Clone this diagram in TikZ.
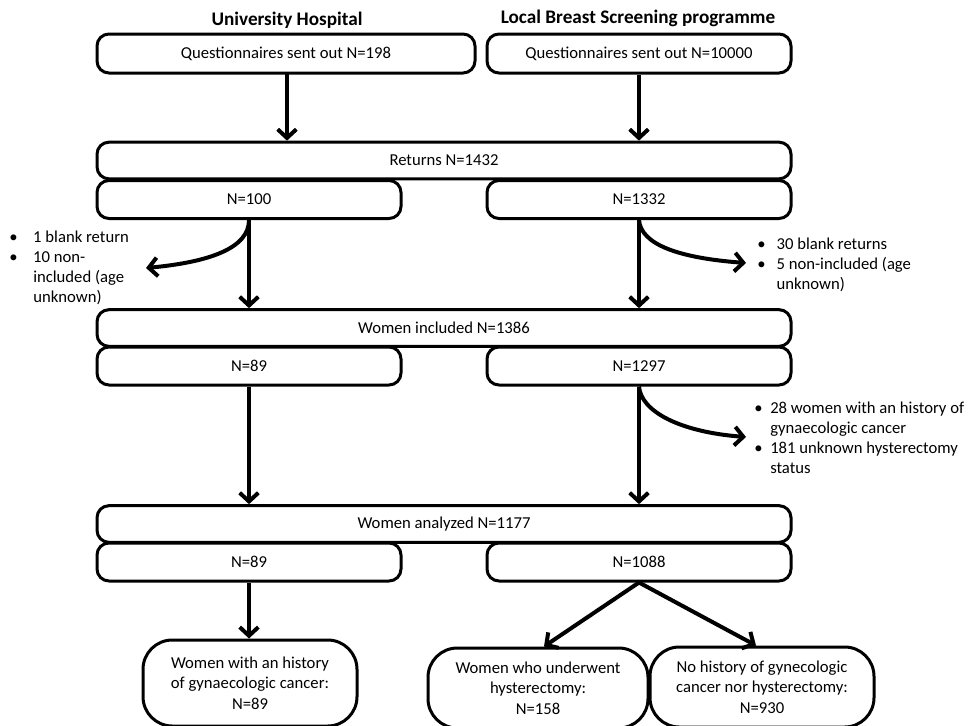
\documentclass[tikz,border=0pt]{standalone}
\usepackage{fontspec}
\setmainfont{Carlito}
\usetikzlibrary{arrows.meta,calc}
\begin{document}
\begin{tikzpicture}[x=0.75pt,y=-0.75pt,
  box/.style={draw,line width=2.25pt,rounded corners=9pt,minimum height=28.5pt,inner sep=0pt,font=\fontsize{12.5}{14}\selectfont},
  wide/.style={box,minimum width=520.5pt,minimum height=27.5pt},
  half/.style={box,minimum width=228pt},
  endbox/.style={draw,line width=2.25pt,rounded corners=22pt,inner sep=0pt,align=center,font=\fontsize{12.5}{15.5}\selectfont},
  arr/.style={line width=3pt,-{Straight Barb[length=6.5pt,width=14pt]}},
  note/.style={anchor=north west,inner sep=0pt,align=left,font=\fontsize{12.5}{15}\selectfont},
  head/.style={font=\fontsize{14.4}{16}\selectfont\bfseries}]
\useasboundingbox (0,0) rectangle (974,725);
\clip (0,0) rectangle (974,725);

\node[head] (h1) at (287,20) {University Hospital};
\node[head] (h2) at (638,18) {Local Breast Screening programme};

\node[box,minimum width=283.5pt,minimum height=29.25pt] (q1) at (286,53.5) {Questionnaires sent out N=198};
\node[half,minimum height=29.25pt] (q2) at (639,53.5) {Questionnaires sent out N=10000};

\node[wide] (ret) at (444,160.5) {Returns N=1432};
\node[half] (n100) at (249,199.5) {N=100};
\node[half] (n1332) at (639,199.5) {N=1332};

\node[wide] (inc) at (444,328) {Women included N=1386};
\node[half] (n89a) at (249,366) {N=89};
\node[half] (n1297) at (639,366) {N=1297};

\node[wide] (ana) at (444,524) {Women analyzed N=1177};
\node[half] (n89b) at (249,562) {N=89};
\node[half] (n1088) at (639,562) {N=1088};

\node[endbox,minimum width=160.5pt,minimum height=64.5pt] (bl) at (250,683) {Women with an history\\of gynaecologic cancer:\\N=89};
\node[endbox,minimum width=165pt,minimum height=60pt] (bm) at (538,688) {Women who underwent\\hysterectomy:\\N=158};
\node[endbox,minimum width=168pt,minimum height=60pt] (br) at (762,687) {No history of gynecologic\\cancer nor hysterectomy:\\N=930};

% notes
\node[note] (t1) at (9,228) {\begin{tabular}{@{}p{18pt}@{}l@{}}\textbullet & 1 blank return\\ \textbullet & 10 non-\\ & included (age\\ & unknown)\end{tabular}};
\node[note] (t2) at (757,235) {\begin{tabular}{@{}p{14.5pt}@{}l@{}}\textbullet & 30 blank returns\\ \textbullet & 5 non-included (age\\ & unknown)\end{tabular}};
\node[note] (t3) at (754,399) {\begin{tabular}{@{}p{12pt}@{}l@{}}\textbullet & 28 women with an history of\\ & gynaecologic cancer\\ \textbullet & 181 unknown hysterectomy\\ & status\end{tabular}};

\coordinate (e1) at (146,268);
\coordinate (e2) at (746,263);
\coordinate (e3) at (746,437);

% arrows
\draw[arr] (287,73) coordinate (s1) -- (s1 |- ret.north);
\draw[arr] (q2.south) -- (q2.south |- ret.north);
\draw[arr] (n100.south) -- (n100.south |- inc.north);
\draw[arr] (n1332.south) -- (n1332.south |- inc.north);
\draw[arr] (n100.south) .. controls ($(n100.south)+(0,28)$) and (210,262) .. (e1);
\draw[arr] (n1332.south) .. controls ($(n1332.south)+(2,25)$) and (680,258) .. (e2);
\draw[arr] (n89a.south) -- (n89a.south |- ana.north);
\draw[arr] (n1297.south) -- (n1297.south |- ana.north);
\draw[arr] (n1297.south) .. controls ($(n1297.south)+(2,25)$) and (680,432) .. (e3);
\draw[arr] (n89b.south) -- (n89b.south |- bl.north);
\draw[arr] (n1088.south) -- ($(bm.north)+(6,0)$);
\draw[arr] (n1088.south) -- ($(br.north)+(-6,0)$);
\end{tikzpicture}
\end{document}
